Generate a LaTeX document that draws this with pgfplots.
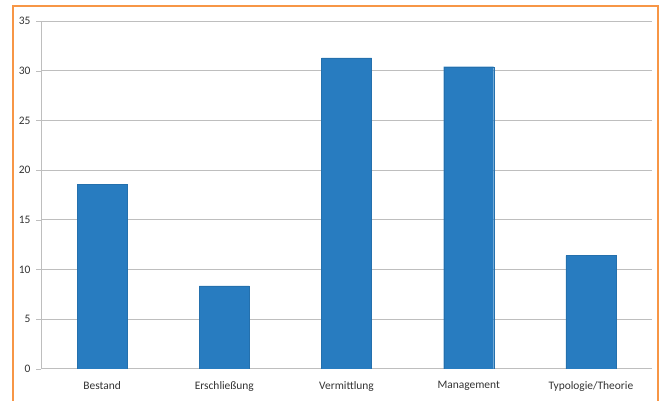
\documentclass[border=0pt]{standalone}
\usepackage{pgfplots}
\pgfplotsset{compat=1.18}
\usepackage{fontspec}
\setmainfont{Carlito}
\definecolor{barblue}{RGB}{40,124,192}
\definecolor{gridgray}{RGB}{190,190,190}
\definecolor{frameorange}{RGB}{247,150,70}
\begin{document}
\begin{tikzpicture}
\useasboundingbox (0bp,0bp) rectangle (665bp,401bp);
\draw[frameorange,line width=1.4bp] (13bp,0bp) -- (13bp,395bp) -- (658bp,395bp) -- (658bp,0bp);
\begin{axis}[
  at={(41bp,32bp)}, anchor=south west,
  scale only axis, width=611bp, height=348bp,
  xmin=-0.5, xmax=4.5, ymin=0, ymax=35,
  ytick={0,5,...,35},
  xtick={0,1,2,3,4},
  xticklabels={Bestand,Erschließung,Vermittlung,Management,Typologie/Theorie},
  extra x ticks={-0.5,0.5,1.5,2.5,3.5,4.5},
  extra x tick labels={},
  extra x tick style={major tick length=5bp, tick style={draw=gridgray}, tick align=outside, grid=none},
  major x tick style={draw=none},
  ytick style={draw=gridgray},
  tick align=outside, major tick length=5bp,
  ymajorgrids, grid style={gridgray, line width=1bp},
  axis x line*=bottom, axis y line*=left,
  axis line style={gridgray, line width=1bp, -},
  tick label style={font=\fontsize{11.5}{13}\selectfont, text=black!80},
  /pgf/number format/assume math mode=true,
  xticklabel style={yshift=-4bp},
  yticklabel style={xshift=-2bp},
  ybar, bar width=50bp,
]
\addplot[fill=barblue, draw=barblue!90!black] coordinates {(0,18.6) (1,8.35) (2,31.3) (3,30.4) (4,11.4)};
\end{axis}
\end{tikzpicture}
\end{document}
